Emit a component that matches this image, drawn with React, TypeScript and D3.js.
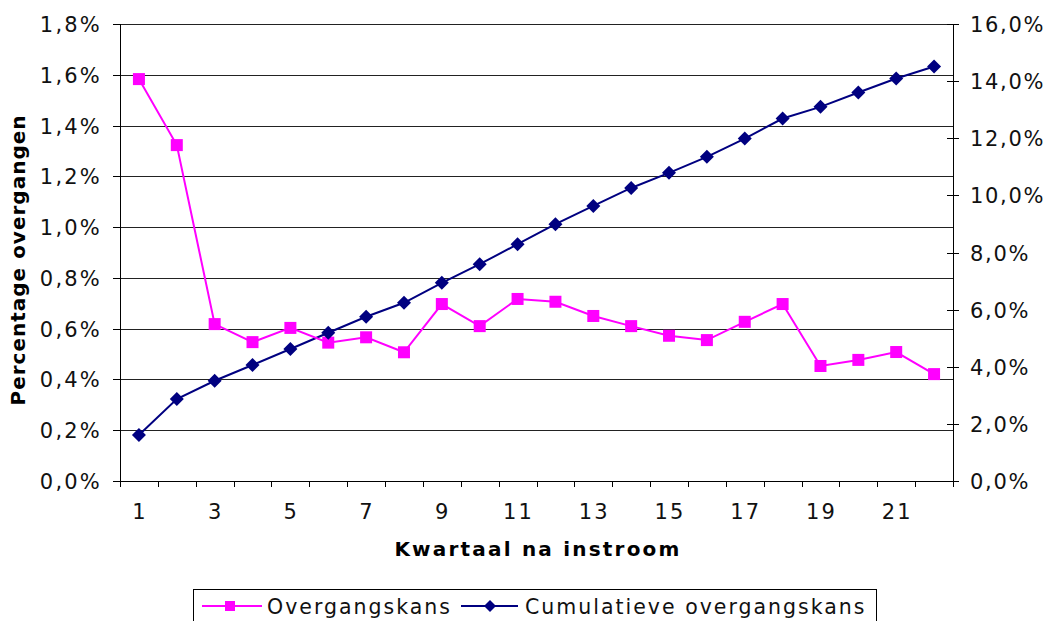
import React from 'react';
import * as d3 from 'd3';

// Kwartaal na instroom (1..22)
const quarters = d3.range(1, 23);

// Overgangskans per kwartaal (%), left axis
const overgangskans = [
  1.583, 1.323, 0.618, 0.547, 0.603, 0.545, 0.566, 0.507, 0.697, 0.61, 0.717,
  0.706, 0.65, 0.61, 0.572, 0.555, 0.627, 0.697, 0.453, 0.477, 0.508, 0.421,
];

// Cumulatieve overgangskans (%), right axis
const cumulatief = [
  1.61, 2.87, 3.51, 4.06, 4.62, 5.19, 5.75, 6.24, 6.94, 7.59, 8.29, 8.99, 9.63,
  10.26, 10.79, 11.35, 11.99, 12.69, 13.1, 13.6, 14.09, 14.51,
];

const leftTicks = [0, 0.2, 0.4, 0.6, 0.8, 1.0, 1.2, 1.4, 1.6, 1.8];
const rightTicks = [0, 2, 4, 6, 8, 10, 12, 14, 16];
const xLabels = quarters.filter((q) => q % 2 === 1);

const seriesNames = ['Overgangskans', 'Cumulatieve overgangskans'];

const PINK = '#ff00ff';
const NAVY = '#000080';
const FONT = '"DejaVu Sans", Verdana, sans-serif';

const width = 1047;
const height = 621;
const plot = { left: 120, right: 953, top: 24, bottom: 481 };

const fmt = (v: number) => v.toFixed(1).replace('.', ',') + '%';

export default function App() {
  const x = d3
    .scaleBand<number>()
    .domain(quarters)
    .range([plot.left, plot.right])
    .padding(0);
  const cx = (q: number) => (x(q) as number) + x.bandwidth() / 2;

  const yLeft = d3.scaleLinear().domain([0, 1.8]).range([plot.bottom, plot.top]);
  const yRight = d3.scaleLinear().domain([0, 16]).range([plot.bottom, plot.top]);

  const pinkLine = d3
    .line<number>()
    .x((_, i) => cx(quarters[i]))
    .y((d) => yLeft(d));
  const navyLine = d3
    .line<number>()
    .x((_, i) => cx(quarters[i]))
    .y((d) => yRight(d));

  const sq = 12;
  const dm = 7;
  const diamond = (px: number, py: number, r: number) =>
    `M${px},${py - r}L${px + r},${py}L${px},${py + r}L${px - r},${py}Z`;

  const xBoundaries = [...quarters.map((q) => x(q) as number), plot.right];

  const textStyle = { fontFamily: FONT, fontSize: 21, letterSpacing: 2.2 };

  return (
    <svg
      width={width}
      height={height}
      style={{ position: 'absolute', left: 0, top: 0, background: '#fff' }}
    >
      {/* gridlines */}
      {leftTicks.slice(1).map((t) => (
        <line
          key={'g' + t}
          x1={plot.left}
          x2={plot.right}
          y1={Math.round(yLeft(t)) + 0.5}
          y2={Math.round(yLeft(t)) + 0.5}
          stroke="#222"
          strokeWidth={1}
        />
      ))}

      {/* left axis */}
      <line x1={plot.left + 0.5} x2={plot.left + 0.5} y1={plot.top} y2={plot.bottom} stroke="#000" />
      {leftTicks.map((t) => (
        <g key={'l' + t}>
          <line
            x1={plot.left - 7}
            x2={plot.left}
            y1={Math.round(yLeft(t)) + 0.5}
            y2={Math.round(yLeft(t)) + 0.5}
            stroke="#000"
          />
          <text x={102} y={yLeft(t) + 8} textAnchor="end" fill="#111" style={textStyle}>
            {fmt(t)}
          </text>
        </g>
      ))}

      {/* right axis */}
      <line x1={plot.right + 0.5} x2={plot.right + 0.5} y1={plot.top} y2={plot.bottom} stroke="#000" />
      {rightTicks.map((t) => (
        <g key={'r' + t}>
          <line
            x1={plot.right - 6}
            x2={plot.right + 6}
            y1={Math.round(yRight(t)) + 0.5}
            y2={Math.round(yRight(t)) + 0.5}
            stroke="#000"
          />
          <text
            x={970}
            y={yRight(t) + 8}
            textAnchor="start"
            fill="#111"
            style={{ ...textStyle, letterSpacing: 1.7 }}
          >
            {fmt(t)}
          </text>
        </g>
      ))}

      {/* x axis */}
      <line x1={plot.left} x2={plot.right} y1={plot.bottom + 0.5} y2={plot.bottom + 0.5} stroke="#000" />
      {xBoundaries.map((bx, i) => (
        <line
          key={'xt' + i}
          x1={Math.round(bx) + 0.5}
          x2={Math.round(bx) + 0.5}
          y1={plot.bottom}
          y2={plot.bottom + 6}
          stroke="#000"
        />
      ))}
      {xLabels.map((q) => (
        <text key={'xl' + q} x={cx(q) + 1} y={519} textAnchor="middle" fill="#111" style={textStyle}>
          {q}
        </text>
      ))}

      {/* axis titles */}
      <text
        x={538}
        y={556}
        textAnchor="middle"
        fill="#000"
        style={{ fontFamily: FONT, fontSize: 20, fontWeight: 'bold', letterSpacing: 2.2 }}
      >
        Kwartaal na instroom
      </text>
      <text
        transform="translate(25,260) rotate(-90)"
        textAnchor="middle"
        fill="#000"
        style={{ fontFamily: FONT, fontSize: 20, fontWeight: 'bold', letterSpacing: 1 }}
      >
        Percentage overgangen
      </text>

      {/* series */}
      <path d={navyLine(cumulatief) || ''} fill="none" stroke={NAVY} strokeWidth={2} />
      <path d={pinkLine(overgangskans) || ''} fill="none" stroke={PINK} strokeWidth={2} />
      {overgangskans.map((v, i) => (
        <rect
          key={'p' + i}
          x={cx(quarters[i]) - sq / 2}
          y={yLeft(v) - sq / 2}
          width={sq}
          height={sq}
          fill={PINK}
        />
      ))}
      {cumulatief.map((v, i) => (
        <path key={'n' + i} d={diamond(cx(quarters[i]), yRight(v), dm)} fill={NAVY} />
      ))}

      {/* legend */}
      <rect x={193.5} y={589.5} width={683} height={40} fill="#fff" stroke="#000" />
      <line x1={202} x2={262} y1={606} y2={606} stroke={PINK} strokeWidth={2} />
      <rect x={230 - 5} y={606 - 5} width={10} height={10} fill={PINK} />
      <text x={267} y={614} fill="#111" style={{ ...textStyle, fontSize: 20.5, letterSpacing: 2 }}>
        {seriesNames[0]}
      </text>
      <line x1={461} x2={518} y1={606} y2={606} stroke={NAVY} strokeWidth={2} />
      <path d={diamond(490, 606, 6)} fill={NAVY} />
      <text x={525} y={614} fill="#111" style={{ ...textStyle, fontSize: 20.5, letterSpacing: 2 }}>
        {seriesNames[1]}
      </text>
    </svg>
  );
}
